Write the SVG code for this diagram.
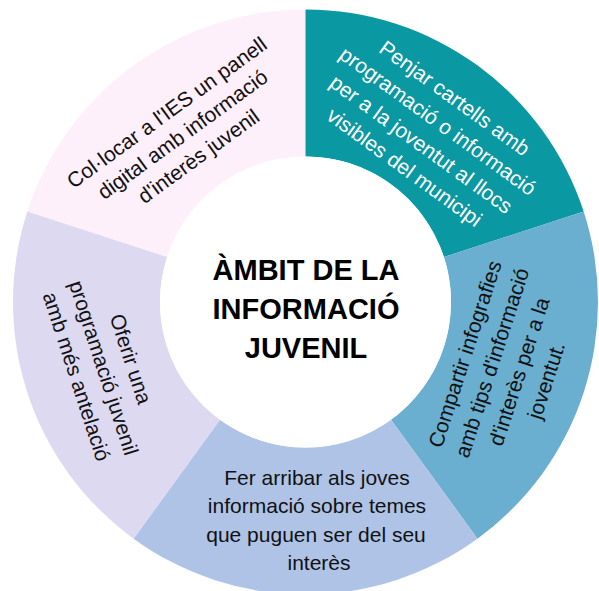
<svg xmlns="http://www.w3.org/2000/svg" width="599" height="591" viewBox="0 0 599 591">
<style>
.seg{stroke:none}
.t{font-family:"Liberation Sans",Arial,sans-serif;font-size:21px;fill:#111;text-anchor:middle}
.w{fill:#fff}
.title{font-family:"Liberation Sans",Arial,sans-serif;font-size:29px;font-weight:bold;fill:#000;text-anchor:middle}
</style>
<rect width="599" height="591" fill="#fff"/>
<g id="seg-pink">
<path class="seg" fill="#FDF0FB" d="M 27.32 211.61 A 292.5 292.5 0 0 1 305.5 9.5 L 305.5 156.5 A 145.5 145.5 0 0 0 167.12 257.04 Z"/>
<g transform="translate(183,135) rotate(-36)">
<text class="t" y="-20.5">Col·locar a l'IES un panell</text>
<text class="t" y="6.5">digital amb informació</text>
<text class="t" y="33.5">d'interès juvenil</text>
</g>
</g>
<g id="seg-teal">
<path class="seg" fill="#0A98A2" d="M 305.5 9.5 A 292.5 292.5 0 0 1 583.68 211.61 L 443.88 257.04 A 145.5 145.5 0 0 0 305.5 156.5 Z"/>
<g transform="translate(429,133.5) rotate(36)">
<text class="t w" y="-36.5">Penjar cartells amb</text>
<text class="t w" y="-8">programació o informació</text>
<text class="t w" y="20.5">per a la joventut al llocs</text>
<text class="t w" y="49">visibles del municipi</text>
</g>
</g>
<g id="seg-blue">
<path class="seg" fill="#6AAED0" d="M 583.68 211.61 A 292.5 292.5 0 0 1 477.43 538.64 L 391.02 419.71 A 145.5 145.5 0 0 0 443.88 257.04 Z"/>
<g transform="translate(506.5,367.5) rotate(-72)">
<text class="t" y="-36.5">Compartir infografies</text>
<text class="t" y="-8">amb tips d'informació</text>
<text class="t" y="20.5">d'interès per a la</text>
<text class="t" y="49">joventut.</text>
</g>
</g>
<g id="seg-lightblue">
<path class="seg" fill="#AEC3E6" d="M 477.43 538.64 A 292.5 292.5 0 0 1 133.57 538.64 L 219.98 419.71 A 145.5 145.5 0 0 0 391.02 419.71 Z"/>
<text class="t" x="317" y="484.5">Fer arribar als joves</text>
<text class="t" x="317" y="513">informació sobre temes</text>
<text class="t" x="316" y="541.5">que puguen ser del seu</text>
<text class="t" x="319" y="570">interès</text>
</g>
<g id="seg-lavender">
<path class="seg" fill="#DDD9F1" d="M 133.57 538.64 A 292.5 292.5 0 0 1 27.32 211.61 L 167.12 257.04 A 145.5 145.5 0 0 0 219.98 419.71 Z"/>
<g transform="translate(103,368) rotate(72)">
<text class="t" y="-22">Oferir una</text>
<text class="t" y="6.5">programació juvenil</text>
<text class="t" y="35">amb més antelació</text>
</g>
</g>
<g id="center">
<circle cx="305.5" cy="302" r="145.5" fill="#fff"/>
<text class="title" x="306" y="280">ÀMBIT DE LA</text>
<text class="title" x="306" y="319">INFORMACIÓ</text>
<text class="title" x="306" y="358">JUVENIL</text>
</g>
<g id="connectors"/>
</svg>
